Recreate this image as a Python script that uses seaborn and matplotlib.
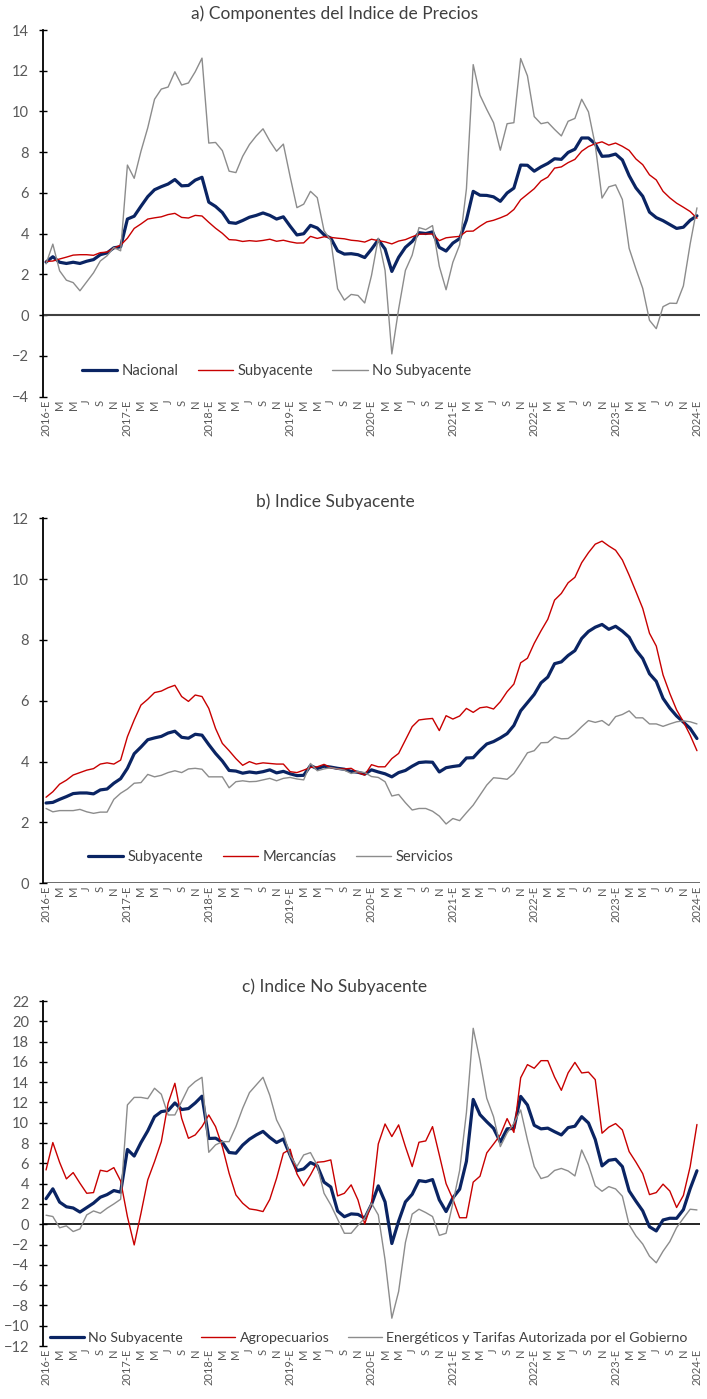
import matplotlib
matplotlib.use("Agg")
import matplotlib.pyplot as plt
import numpy as np
import pandas as pd
import seaborn as sns

# Monthly annual inflation rates (%), January 2016 - January 2024
start_year = 2016
month_letters = ["E", "F", "M", "A", "M", "J", "J", "A", "S", "O", "N", "D"]

nacional = [
    2.61, 2.87, 2.60, 2.54, 2.60, 2.54, 2.65, 2.73, 2.97, 3.06, 3.31, 3.36,
    4.72, 4.86, 5.35, 5.82, 6.16, 6.31, 6.44, 6.66, 6.35, 6.37, 6.63, 6.77,
    5.55, 5.34, 5.04, 4.55, 4.51, 4.65, 4.81, 4.90, 5.02, 4.90, 4.72, 4.83,
    4.37, 3.94, 4.00, 4.41, 4.28, 3.95, 3.78, 3.16, 3.00, 3.02, 2.97, 2.83,
    3.24, 3.70, 3.25, 2.15, 2.84, 3.33, 3.62, 4.05, 4.01, 4.09, 3.33, 3.15,
    3.54, 3.76, 4.67, 6.08, 5.89, 5.88, 5.81, 5.59, 6.00, 6.24, 7.37, 7.36,
    7.07, 7.28, 7.45, 7.68, 7.65, 7.99, 8.15, 8.70, 8.70, 8.41, 7.80, 7.82,
    7.91, 7.62, 6.85, 6.25, 5.84, 5.06, 4.79, 4.64, 4.45, 4.26, 4.32, 4.66,
    4.88,
]

subyacente = [
    2.64, 2.66, 2.76, 2.85, 2.95, 2.97, 2.97, 2.94, 3.07, 3.10, 3.29, 3.44,
    3.78, 4.26, 4.48, 4.72, 4.78, 4.83, 4.94, 5.00, 4.80, 4.77, 4.90, 4.87,
    4.56, 4.27, 4.02, 3.71, 3.69, 3.62, 3.66, 3.63, 3.67, 3.73, 3.63, 3.68,
    3.60, 3.54, 3.55, 3.87, 3.77, 3.85, 3.82, 3.78, 3.75, 3.68, 3.65, 3.59,
    3.73, 3.66, 3.60, 3.50, 3.64, 3.71, 3.85, 3.97, 3.99, 3.98, 3.66, 3.80,
    3.84, 3.87, 4.12, 4.13, 4.37, 4.58, 4.66, 4.78, 4.92, 5.19, 5.67, 5.94,
    6.21, 6.59, 6.78, 7.22, 7.28, 7.49, 7.65, 8.05, 8.28, 8.42, 8.51, 8.35,
    8.45, 8.29, 8.09, 7.67, 7.39, 6.89, 6.64, 6.08, 5.76, 5.50, 5.30, 5.09,
    4.76,
]

no_subyacente = [
    2.52, 3.49, 2.18, 1.72, 1.60, 1.20, 1.64, 2.08, 2.66, 2.92, 3.32, 3.16,
    7.37, 6.72, 8.05, 9.20, 10.60, 11.10, 11.20, 11.95, 11.30, 11.40, 11.95, 12.62,
    8.45, 8.48, 8.08, 7.07, 7.00, 7.80, 8.38, 8.80, 9.15, 8.55, 8.05, 8.40,
    6.80, 5.28, 5.45, 6.08, 5.77, 4.15, 3.67, 1.30, 0.74, 1.02, 0.97, 0.60,
    1.95, 3.78, 2.20, -1.90, 0.30, 2.20, 2.95, 4.30, 4.20, 4.40, 2.40, 1.25,
    2.60, 3.45, 6.20, 12.30, 10.80, 10.10, 9.45, 8.10, 9.40, 9.45, 12.60, 11.75,
    9.75, 9.40, 9.47, 9.12, 8.80, 9.52, 9.66, 10.60, 9.98, 8.35, 5.75, 6.30,
    6.40, 5.68, 3.28, 2.27, 1.32, -0.25, -0.66, 0.42, 0.59, 0.58, 1.44, 3.50,
    5.27,
]

mercancias = [
    2.83, 3.01, 3.26, 3.39, 3.56, 3.64, 3.72, 3.77, 3.92, 3.96, 3.92, 4.05,
    4.82, 5.37, 5.86, 6.05, 6.27, 6.32, 6.43, 6.51, 6.14, 5.98, 6.19, 6.14,
    5.75, 5.09, 4.60, 4.36, 4.10, 3.88, 4.00, 3.92, 3.96, 3.94, 3.92, 3.92,
    3.67, 3.64, 3.72, 3.81, 3.83, 3.91, 3.80, 3.76, 3.76, 3.78, 3.64, 3.56,
    3.90, 3.83, 3.83, 4.10, 4.27, 4.71, 5.15, 5.37, 5.40, 5.42, 5.02, 5.51,
    5.40, 5.50, 5.75, 5.62, 5.77, 5.80, 5.73, 5.97, 6.30, 6.55, 7.25, 7.40,
    7.89, 8.30, 8.68, 9.31, 9.53, 9.88, 10.06, 10.54, 10.87, 11.15, 11.25, 11.09,
    10.95, 10.63, 10.13, 9.59, 9.04, 8.22, 7.80, 6.85, 6.24, 5.70, 5.31, 4.87,
    4.36,
]

servicios = [
    2.46, 2.35, 2.39, 2.39, 2.39, 2.43, 2.35, 2.30, 2.34, 2.34, 2.76, 2.96,
    3.10, 3.29, 3.31, 3.58, 3.50, 3.55, 3.64, 3.70, 3.64, 3.76, 3.78, 3.75,
    3.50, 3.50, 3.50, 3.14, 3.34, 3.37, 3.34, 3.35, 3.40, 3.45, 3.37, 3.45,
    3.48, 3.43, 3.40, 3.94, 3.70, 3.76, 3.80, 3.76, 3.72, 3.61, 3.67, 3.64,
    3.51, 3.48, 3.34, 2.87, 2.92, 2.65, 2.41, 2.46, 2.46, 2.37, 2.21, 1.95,
    2.13, 2.06, 2.32, 2.57, 2.90, 3.23, 3.47, 3.45, 3.42, 3.61, 3.94, 4.29,
    4.36, 4.62, 4.63, 4.82, 4.75, 4.76, 4.93, 5.15, 5.35, 5.29, 5.35, 5.19,
    5.48, 5.55, 5.67, 5.44, 5.44, 5.24, 5.24, 5.16, 5.24, 5.31, 5.34, 5.31,
    5.24,
]

agropecuarios = [
    5.35, 8.05, 6.10, 4.47, 5.09, 4.04, 3.05, 3.12, 5.32, 5.19, 5.58, 4.27,
    0.75, -2.04, 1.08, 4.37, 6.17, 8.14, 11.92, 13.89, 10.44, 8.47, 8.80, 9.62,
    10.77, 9.62, 7.65, 5.02, 2.89, 2.07, 1.51, 1.41, 1.25, 2.45, 4.53, 7.00,
    7.39, 4.96, 3.78, 4.86, 6.11, 6.17, 6.34, 2.79, 3.05, 3.88, 2.40, 0.03,
    2.07, 7.91, 9.88, 8.64, 9.79, 7.65, 5.68, 8.08, 8.21, 9.62, 6.83, 4.00,
    2.48, 0.64, 0.64, 4.15, 4.73, 7.03, 7.90, 8.80, 10.41, 9.05, 14.43, 15.73,
    15.37, 16.12, 16.12, 14.50, 13.20, 14.92, 15.95, 14.91, 14.99, 14.25, 8.97, 9.57,
    9.92, 9.29, 7.16, 6.12, 4.99, 2.92, 3.12, 3.95, 3.27, 1.65, 2.84, 5.68,
    9.83,
]

energeticos = [
    0.89, 0.76, -0.35, -0.16, -0.72, -0.46, 0.92, 1.31, 1.08, 1.58, 2.00, 2.46,
    11.76, 12.50, 12.50, 12.38, 13.40, 12.81, 10.77, 10.77, 12.09, 13.46, 14.06, 14.48,
    7.09, 7.82, 8.14, 8.14, 9.62, 11.43, 12.97, 13.73, 14.48, 12.70, 10.28, 8.97,
    6.75, 5.70, 6.83, 7.06, 5.80, 3.05, 1.90, 0.50, -0.89, -0.89, -0.10, 0.60,
    2.07, 0.92, -3.51, -9.26, -6.63, -1.80, 1.00, 1.48, 1.15, 0.76, -1.10, -0.89,
    2.07, 5.30, 11.00, 19.31, 16.15, 12.41, 10.60, 7.65, 9.00, 9.95, 11.26, 8.31,
    5.68, 4.50, 4.70, 5.30, 5.50, 5.25, 4.76, 7.32, 5.85, 3.78, 3.25, 3.71,
    3.48, 2.76, -0.05, -1.15, -1.95, -3.15, -3.80, -2.66, -1.71, -0.33, 0.59, 1.48,
    1.41,
]

# Category axis: one position per month, labelled every second month
months = np.arange(len(nacional))
tick_pos = months[::2]
tick_labels = [
    f"{start_year + i // 12}-E" if i % 12 == 0 else month_letters[i % 12]
    for i in tick_pos
]

NAVY = "#0A2463"
RED = "#C80000"
GREY = "#8C8C8C"
TEXT = "#404040"
TICK = "#595959"

sns.set_theme(style="white")
plt.rcParams["font.family"] = ["Lato", "DejaVu Sans"]

fig = plt.figure(figsize=(7.07, 13.99), dpi=100)
W, H = 707.0, 1399.0


def make_axes(top_px, bottom_px, left_px=43.0, right_px=700.0):
    return fig.add_axes([left_px / W, 1 - bottom_px / H,
                         (right_px - left_px) / W, (bottom_px - top_px) / H])


def draw_panel(ax, series, ylim, title, title_y, leg_x, leg_y, zero_lw,
               zero_color, leg_size):
    for name, values, color, lw in series:
        df = pd.DataFrame({"mes": months, "valor": values})
        sns.lineplot(data=df, x="mes", y="valor", ax=ax, color=color,
                     linewidth=lw, label=name)
    ax.set_xlim(-0.45, 96.45)
    ax.set_ylim(*ylim)
    ax.set_yticks(np.arange(ylim[0], ylim[1] + 1, 2))
    ax.set_xticks(tick_pos)
    ax.set_xticklabels(tick_labels, rotation=90, fontsize=8, color=TICK)
    ax.set_xlabel("")
    ax.set_ylabel("")
    ax.tick_params(axis="x", length=0, pad=2)
    ax.tick_params(axis="y", which="major", direction="inout", length=6,
                   width=1.0, color="#000000", labelsize=10.5,
                   labelcolor=TICK, pad=7, left=True)
    for side in ("top", "right", "bottom"):
        ax.spines[side].set_visible(False)
    ax.spines["left"].set_color("#000000")
    ax.spines["left"].set_linewidth(1.3)
    ax.axhline(0, color=zero_color, linewidth=zero_lw, zorder=1)
    ax.grid(False)
    ax.legend(loc="center left", bbox_to_anchor=(leg_x, leg_y), ncol=3,
              frameon=False, fontsize=leg_size, handlelength=2.4,
              handletextpad=0.3, columnspacing=1.3, borderpad=0,
              borderaxespad=0, labelcolor=TEXT)
    fig.text(335 / W, 1 - title_y / H, title, ha="center", va="center",
             fontsize=12.5, color=TEXT)


ax_a = make_axes(30.0, 396.7)
draw_panel(ax_a,
           [("Nacional", nacional, NAVY, 2.3),
            ("Subyacente", subyacente, RED, 1.0),
            ("No Subyacente", no_subyacente, GREY, 1.0)],
           (-4, 14), "a) Componentes del Indice de Precios", 14,
           (82 - 43) / 657, 0.07, 1.5, "#404040", 10.6)

ax_b = make_axes(518.3, 883.3)
draw_panel(ax_b,
           [("Subyacente", subyacente, NAVY, 2.3),
            ("Mercancías", mercancias, RED, 1.0),
            ("Servicios", servicios, GREY, 1.0)],
           (0, 12), "b) Indice Subyacente", 502,
           (88 - 43) / 657, 0.072, 1.8, "#404040", 10.6)

ax_c = make_axes(1001.0, 1346.0)
draw_panel(ax_c,
           [("No Subyacente", no_subyacente, NAVY, 2.3),
            ("Agropecuarios", agropecuarios, RED, 1.0),
            ("Energéticos y Tarifas Autorizada por el Gobierno", energeticos, GREY, 1.0)],
           (-12, 22), "c) Indice No Subyacente", 987,
           (50 - 43) / 657, 0.022, 1.2, "#000000", 10.2)

fig.savefig("out.png", dpi=100, facecolor="white")
